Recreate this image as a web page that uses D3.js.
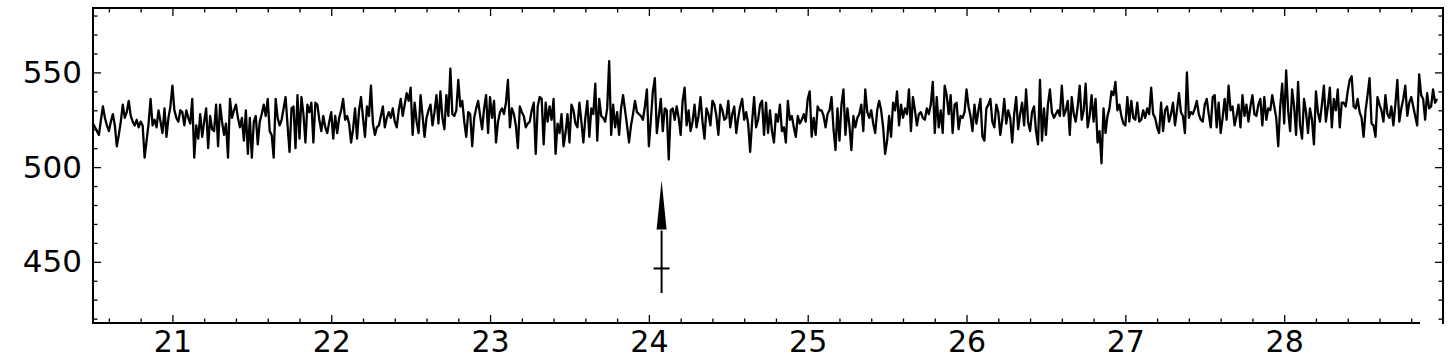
<!DOCTYPE html>
<html>
<head>
<meta charset="utf-8">
<script src="https://cdn.jsdelivr.net/npm/d3@7"></script>
<style>
  body { margin: 0; background: #fff; }
  svg { display: block; }
  text { font-family: "DejaVu Sans", sans-serif; }
</style>
</head>
<body>
<div class="svg-container"></div>
<script>
const xStart = 20.5;
const xStep = 0.0125;

const seg1 = [523,521,519,517,525,532,526,522,519,524,528,522,511,517,524,533,526,529,535,527,524,522,525,521,524,522,505,514,523,536,522,525,521,530,524,518,531,516,526,532,543,530,526,524,530,529,522,530,526,523,536,505,522,515,528,516,524,531,510,527,520,519,533,511,533,524,517,523,505,536,526,530,533,526,521,526,514,530,507,526,505,524,527,512,524,528,533,527,536,519,517,505,536,526,522,525,531,537,522,508,531,532,510,538,515,537,528,513,533,529,534,513,534];
const seg2 = [533,525,519,527,521,518,524,529,515,527,518,526,530,536,525,527,523,513,520,531,515,530,537,526,516,532,527,543,523,517,521,522,527,532,521,526,529,526,531,524,521,530,536,527,533,539,535,542,517,534,524,518,538,527,516,526,530,533,522,529,538,523,540,526,520,538,527,552,528,527,530,546,532,535,524,516,529,528,511,526,531,535,527,520,531,538,518,537,526,535,513,524,529,531,528,534,546,521,531,528,522,510,532,529,527,521,523,524,530,534,507,532,537];
const seg3 = [536,512,534,524,532,525,536,507,523,518,528,511,518,528,513,533,530,523,521,534,524,513,526,535,516,531,528,544,514,536,527,526,524,531,556,517,533,521,529,517,531,538,530,522,513,522,528,535,529,528,527,525,532,541,511,525,540,547,518,527,536,519,531,530,504,530,531,525,532,526,517,535,542,522,530,519,524,533,521,527,537,524,515,531,528,522,535,533,527,517,533,530,525,526,535,521,528,532,518,526,532,536,525,529,523,508,524,537,521,525,533,535,517];
const seg4 = [534,518,530,519,513,528,524,533,519,521,513,535,525,527,521,516,527,523,525,528,524,536,540,516,526,517,532,530,530,527,521,528,530,537,520,509,531,514,533,541,517,531,522,509,527,521,526,528,533,519,541,529,526,530,523,518,530,535,530,521,507,514,527,516,534,530,540,522,533,526,531,528,541,519,537,530,522,528,529,526,525,531,528,533,545,518,537,521,530,518,543,538,528,538,518,533,534,520,527,526,529,541,532,527,519,533,523,530,536,516,514,531,533];
const seg5 = [536,524,521,533,529,517,525,536,523,530,526,513,528,537,520,528,534,522,541,524,519,529,532,519,512,546,514,531,517,533,541,529,526,528,530,527,543,527,530,535,517,537,528,524,532,543,525,530,544,521,527,538,524,536,513,519,502,531,518,527,531,540,538,545,530,533,527,523,522,537,524,535,526,525,534,524,525,530,526,531,528,542,528,526,521,518,534,519,530,532,524,528,534,522,530,539,529,527,518,550,526,529,528,531,535,528,525,524,533,536,528,521,537];
const seg6 = [538,521,534,518,526,536,525,543,530,532,522,527,533,521,538,527,533,524,532,538,528,527,533,536,522,537,525,531,530,538,532,526,511,532,544,523,551,530,519,541,532,517,545,522,515,536,529,518,531,525,512,540,529,524,533,543,524,532,542,521,536,530,541,521,534,534,532,540,546,548,532,531,536,529,526,516,530,538,547,523,522,516,537,533,530,524,538,528,526,532,522,533,546,524,531,536,543,527,534,537,532,527,522,549,538,536,525,539,531,532,541,534,536];

const signal = seg1.concat(seg2, seg3, seg4, seg5, seg6);

const xMajor = [21, 22, 23, 24, 25, 26, 27, 28];
const yMajor = [450, 500, 550];

// marker: arrow with a short cross bar
const arrowX = 24.08;
const arrowBottom = 433.5;
const arrowBar = 446.5;
const arrowHeadBase = 467;
const arrowTip = 493;

const width = 1449;
const height = 360;
const margin = { top: 8, right: 6, bottom: 37, left: 93 };

const x = d3.scaleLinear().domain([20.5, 29.0]).range([margin.left, width - margin.right]);
const y = d3.scaleLinear().domain([417.7, 584]).range([height - margin.bottom, margin.top]);

const svg = d3.select('.svg-container')
  .append('svg')
  .attr('width', width)
  .attr('height', height);

const xMinor = d3.range(102, 146).map((d) => d / 5).filter((d) => !xMajor.includes(d) && d > 20.5 && d < 29);
const yMinor = d3.range(42, 59).map((d) => d * 10).filter((d) => !yMajor.includes(d) && d > 417.7 && d < 584);

const fontSize = 31;

// bottom axis
svg.append('g')
  .attr('transform', `translate(0,${y.range()[0]})`)
  .call(d3.axisBottom(x).tickValues(xMajor).tickSize(-8).tickFormat(d3.format('d')))
  .call((g) => g.select('.domain').remove())
  .call((g) => g.selectAll('text').attr('y', 29).attr('dy', 0).style('font-size', '30px').attr('fill', '#000'));
svg.append('g')
  .attr('transform', `translate(0,${y.range()[0]})`)
  .call(d3.axisBottom(x).tickValues(xMinor).tickSize(-4.5).tickFormat(''))
  .call((g) => g.select('.domain').remove());

// top axis
svg.append('g')
  .attr('transform', `translate(0,${y.range()[1]})`)
  .call(d3.axisTop(x).tickValues(xMajor).tickSize(-8).tickFormat(''))
  .call((g) => g.select('.domain').remove());
svg.append('g')
  .attr('transform', `translate(0,${y.range()[1]})`)
  .call(d3.axisTop(x).tickValues(xMinor).tickSize(-4.5).tickFormat(''))
  .call((g) => g.select('.domain').remove());

// left axis
svg.append('g')
  .attr('transform', `translate(${x.range()[0]},0)`)
  .call(d3.axisLeft(y).tickValues(yMajor).tickSize(-8).tickPadding(11))
  .call((g) => g.select('.domain').remove())
  .call((g) => g.selectAll('text').style('font-size', fontSize + 'px').attr('fill', '#000'));
svg.append('g')
  .attr('transform', `translate(${x.range()[0]},0)`)
  .call(d3.axisLeft(y).tickValues(yMinor).tickSize(-4.5).tickFormat(''))
  .call((g) => g.select('.domain').remove());

// right axis
svg.append('g')
  .attr('transform', `translate(${x.range()[1]},0)`)
  .call(d3.axisRight(y).tickValues(yMajor).tickSize(-8).tickFormat(''))
  .call((g) => g.select('.domain').remove());
svg.append('g')
  .attr('transform', `translate(${x.range()[1]},0)`)
  .call(d3.axisRight(y).tickValues(yMinor).tickSize(-4.5).tickFormat(''))
  .call((g) => g.select('.domain').remove());

svg.selectAll('.tick line').attr('stroke', '#000').attr('stroke-width', 1.3);

// frame
const frame = svg.append('g').attr('stroke', '#000').attr('stroke-width', 2).attr('fill', 'none');
frame.append('line').attr('x1', x.range()[0]).attr('x2', x.range()[0]).attr('y1', y.range()[1] - 1).attr('y2', y.range()[0] + 1);
frame.append('line').attr('x1', x.range()[0]).attr('x2', x.range()[1]).attr('y1', y.range()[1]).attr('y2', y.range()[1]);
frame.append('line').attr('x1', x.range()[1]).attr('x2', x.range()[1]).attr('y1', y.range()[1] - 1).attr('y2', y.range()[0] + 1);
frame.append('line').attr('x1', x.range()[0] - 1).attr('x2', x.range()[1] - 23).attr('y1', y.range()[0]).attr('y2', y.range()[0]);

// trace
const line = d3.line()
  .x((d, i) => x(xStart + i * xStep))
  .y((d) => y(d));

svg.append('path')
  .datum(signal)
  .attr('fill', 'none')
  .attr('stroke', '#000')
  .attr('stroke-width', 2.3)
  .attr('stroke-linejoin', 'round')
  .attr('d', line);

// arrow marker
const ax = x(arrowX);
const arrow = svg.append('g');
arrow.append('line')
  .attr('x1', ax).attr('x2', ax)
  .attr('y1', y(arrowBottom)).attr('y2', y(arrowHeadBase) + 1)
  .attr('stroke', '#000').attr('stroke-width', 2);
arrow.append('line')
  .attr('x1', ax - 8).attr('x2', ax + 8)
  .attr('y1', y(arrowBar)).attr('y2', y(arrowBar))
  .attr('stroke', '#000').attr('stroke-width', 2);
arrow.append('path')
  .attr('d', `M${ax},${y(arrowTip)} L${ax - 5},${y(arrowHeadBase)} L${ax + 5},${y(arrowHeadBase)} Z`)
  .attr('fill', '#000');
</script>
</body>
</html>
